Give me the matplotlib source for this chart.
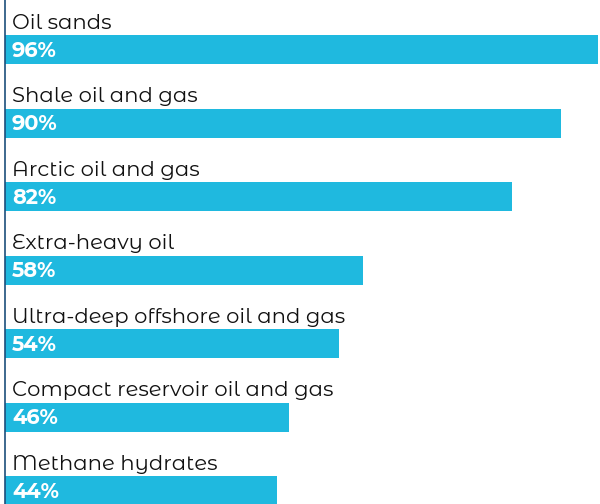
import matplotlib.pyplot as plt
import numpy as np

# unconventional resources, share in percent
categories = ["Oil sands", "Shale oil and gas", "Arctic oil and gas", "Extra-heavy oil",
              "Ultra-deep offshore oil and gas", "Compact reservoir oil and gas",
              "Methane hydrates"]
values = [96, 90, 82, 58, 54, 46, 44]

BAR_COLOR = "#1fb9df"
AXIS_COLOR = "#1d4f7c"

plt.rcParams['font.family'] = ['Montserrat Alternates', 'DejaVu Sans']

fig = plt.figure(figsize=(6, 5.04), dpi=100)
ax = fig.add_axes([5 / 600, 0, 595 / 600, 1])

y = np.arange(len(categories))
ax.barh(y, values, height=0.395, color=BAR_COLOR, left=0)

for yi, cat, v in zip(y, categories, values):
    ax.text(1.15, yi - 0.285, cat, va='baseline', ha='left', fontsize=15.2, color='#111111')
    ax.text(1.15, yi + 0.095, f"{v}%", va='baseline', ha='left', fontsize=15,
            fontweight='bold', color='white')

ax.set_xlim(0, 96.3)
ax.set_ylim(6.18, -0.68)
ax.set_xticks([])
ax.set_yticks([])
for s in ['top', 'right', 'bottom']:
    ax.spines[s].set_visible(False)
ax.spines['left'].set_color(AXIS_COLOR)
ax.spines['left'].set_linewidth(1.2)

fig.savefig("out.png", dpi=100)
